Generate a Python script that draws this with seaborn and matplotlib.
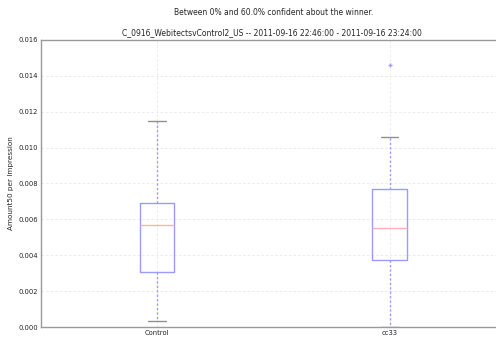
import matplotlib
matplotlib.use("Agg")
import matplotlib.pyplot as plt
import seaborn as sns

# Per-variant summary of Amount50 per impression
groups = ["Control", "cc33"]
whisker_low = [0.00037, 0.0]
q1 = [0.00305, 0.00372]
median = [0.00567, 0.00554]
q3 = [0.00690, 0.00768]
whisker_high = [0.01147, 0.01058]
outliers = [[], [0.01461]]

sns.set_theme(style="whitegrid")
plt.rcParams["font.family"] = ["DejaVu Sans"]

fig = plt.figure(figsize=(4.96, 3.43), dpi=100)
ax = fig.add_axes([0.082, 0.0458, 0.938, 0.8385])

stats = [
    dict(label=g, whislo=wl, q1=a, med=m, q3=b, whishi=wh, fliers=f)
    for g, wl, a, m, b, wh, f in zip(groups, whisker_low, q1, median, q3, whisker_high, outliers)
]
ax.bxp(
    stats,
    positions=[1, 2],
    widths=0.15,
    showfliers=True,
    boxprops=dict(color="#9a9aff", linewidth=1.0),
    medianprops=dict(color="#ffb0b0", linewidth=1.0),
    whiskerprops=dict(color="#9a9aff", linewidth=1.0, linestyle=(0, (1.6, 1.6))),
    capprops=dict(color="#909090", linewidth=1.0),
    flierprops=dict(marker="+", markeredgecolor="#9a9aff", markersize=3, linestyle="none"),
)

ax.set_xlim(0.5, 2.5)
ax.set_ylim(0, 0.016)
ax.set_yticks([0.000, 0.002, 0.004, 0.006, 0.008, 0.010, 0.012, 0.014, 0.016])
ax.set_yticklabels([f"{v:.3f}" for v in ax.get_yticks()])
ax.tick_params(axis="both", labelsize=4.9, length=0, pad=2, colors="#222222")
ax.set_ylabel("Amount50 per Impression", fontsize=5.2, labelpad=3)

ax.grid(True, color="#e8e8e8", linestyle=(0, (3, 2.5)), linewidth=0.6)
ax.set_facecolor("white")
for side, sp in ax.spines.items():
    sp.set_color("#9a9a9a")
    sp.set_linewidth(1.0)

ax.set_title("C_0916_WebitectsvControl2_US -- 2011-09-16 22:46:00 - 2011-09-16 23:24:00",
             fontsize=5.5, pad=3.5, x=0.497)
fig.text(0.552, 0.965, "Between 0% and 60.0% confident about the winner.",
         fontsize=5.5, ha="center", va="center")

fig.savefig("out.png", dpi=100)
